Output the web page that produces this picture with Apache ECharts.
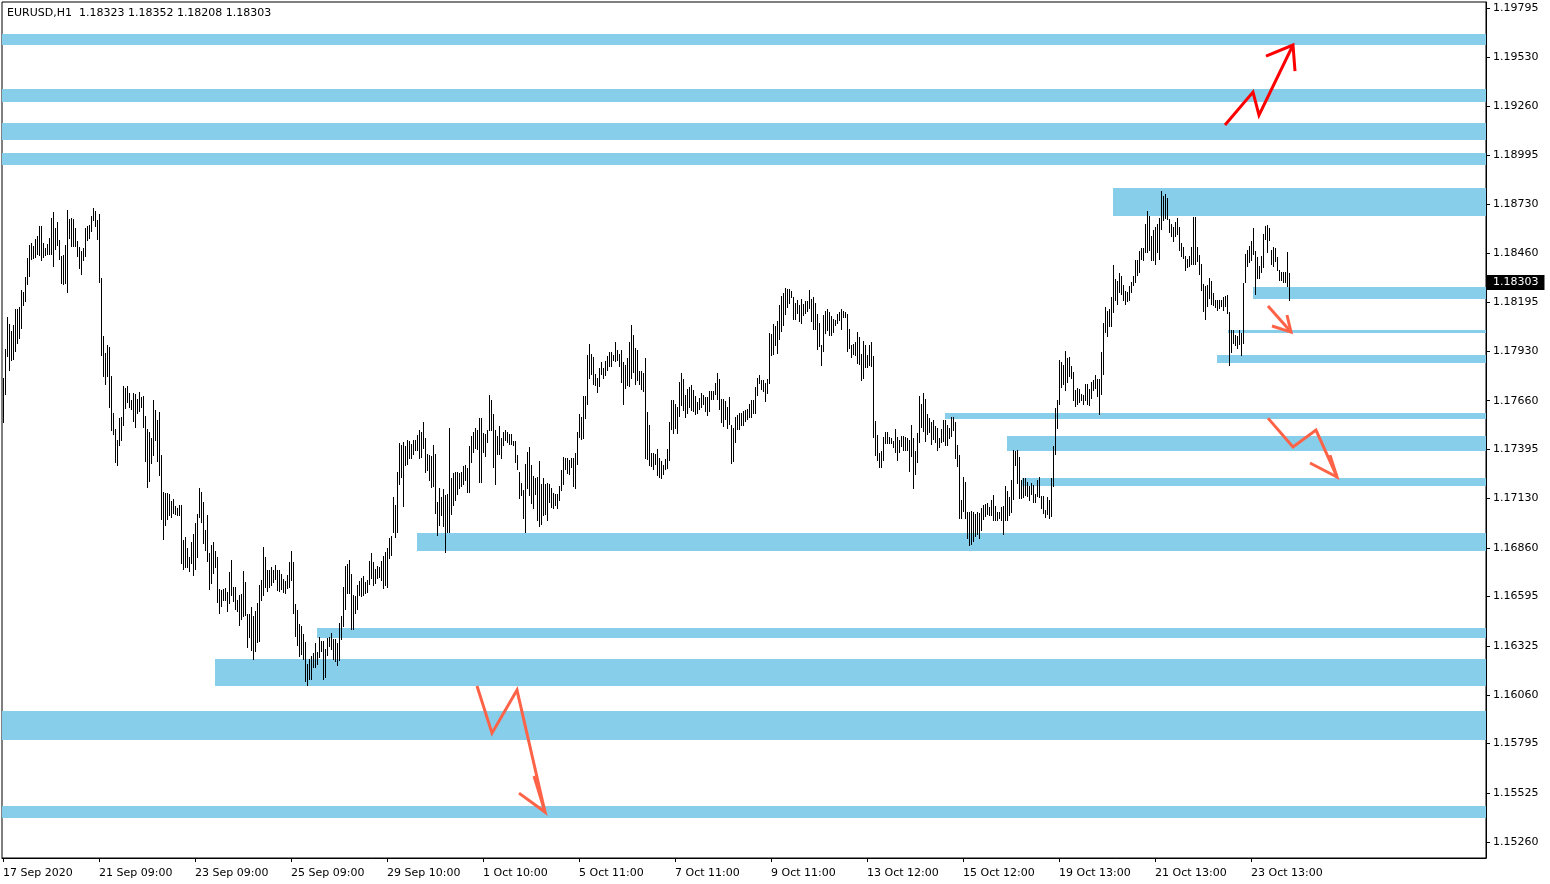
<!DOCTYPE html>
<html><head><meta charset="utf-8">
<script src="https://cdn.jsdelivr.net/npm/echarts@6/dist/echarts.min.js"></script>
<style>html,body{margin:0;padding:0;background:#fff}#chart{width:1550px;height:884px}</style>
</head><body><div id="chart"></div>
<script>
const symbolName = 'EURUSD,H1';
const lastBarOHLC = [1.18323, 1.18352, 1.18208, 1.18303];

// H1 bar highs / lows, first bar = 17 Sep 2020 09:00
const barHighs = [
1.17783,1.17941,1.18115,1.18077,1.18039,1.18071,1.18158,1.18158,1.18169,1.18262,
1.18251,1.18332,1.18436,1.18506,1.18517,1.18501,1.18539,1.18555,1.18610,1.18610,
1.18517,1.18490,1.18512,1.18544,1.18653,1.18686,1.18599,1.18631,1.18533,1.18446,
1.18452,1.18506,1.18697,1.18648,1.18653,1.18648,1.18599,1.18528,1.18495,1.18474,
1.18490,1.18599,1.18610,1.18615,1.18664,1.18707,1.18691,1.18642,1.18675,1.18327,
1.18011,1.17919,1.17962,1.17952,1.17794,1.17593,1.17506,1.17446,1.17565,1.17571,
1.17739,1.17729,1.17739,1.17701,1.17663,1.17701,1.17696,1.17669,1.17707,1.17680,
1.17685,1.17576,1.17506,1.17489,1.17457,1.17663,1.17609,1.17555,1.17598,1.17364,
1.17163,1.17158,1.17158,1.17152,1.17114,1.17125,1.17087,1.17076,1.17092,1.17092,
1.16902,1.16918,1.16858,1.16809,1.16891,1.16935,1.16994,1.17043,1.17185,1.17163,
1.17109,1.16956,1.17038,1.16831,1.16875,1.16891,1.16842,1.16809,1.16636,1.16630,
1.16636,1.16641,1.16619,1.16728,1.16793,1.16646,1.16646,1.16576,1.16603,1.16608,
1.16733,1.16674,1.16500,1.16500,1.16538,1.16489,1.16516,1.16559,1.16657,1.16684,
1.16864,1.16809,1.16739,1.16739,1.16755,1.16739,1.16766,1.16739,1.16739,1.16717,
1.16690,1.16679,1.16712,1.16782,1.16842,1.16782,1.16554,1.16521,1.16445,1.16434,
1.16391,1.16347,1.16228,1.16255,1.16271,1.16287,1.16342,1.16293,1.16374,1.16353,
1.16353,1.16309,1.16369,1.16374,1.16396,1.16364,1.16364,1.16342,1.16451,1.16489,
1.16646,1.16761,1.16771,1.16793,1.16717,1.16603,1.16598,1.16657,1.16679,1.16695,
1.16706,1.16674,1.16684,1.16788,1.16831,1.16782,1.16744,1.16761,1.16755,1.16788,
1.16815,1.16837,1.16858,1.16913,1.16924,1.17136,1.17092,1.17272,1.17429,1.17419,
1.17435,1.17413,1.17446,1.17440,1.17424,1.17446,1.17446,1.17473,1.17500,1.17489,
1.17544,1.17457,1.17370,1.17364,1.17359,1.17419,1.17370,1.17109,1.17185,1.17136,
1.17179,1.17147,1.17152,1.17511,1.17239,1.17266,1.17272,1.17272,1.17266,1.17272,
1.17304,1.17310,1.17294,1.17413,1.17468,1.17489,1.17511,1.17500,1.17565,1.17565,
1.17484,1.17478,1.17500,1.17691,1.17663,1.17587,1.17500,1.17468,1.17522,1.17457,
1.17489,1.17500,1.17489,1.17478,1.17478,1.17440,1.17440,1.17364,1.17272,1.17212,
1.17174,1.17315,1.17381,1.17408,1.17310,1.17250,1.17239,1.17245,1.17332,1.17206,
1.17239,1.17206,1.17212,1.17206,1.17185,1.17158,1.17152,1.17152,1.17196,1.17283,
1.17353,1.17348,1.17348,1.17337,1.17348,1.17348,1.17375,1.17489,1.17587,1.17571,
1.17685,1.17685,1.17908,1.17968,1.17913,1.17897,1.17805,1.17783,1.17837,1.17870,
1.17837,1.17875,1.17903,1.17924,1.17924,1.17908,1.17979,1.17935,1.17913,1.17935,
1.17870,1.17854,1.17892,1.17979,1.18071,1.18017,1.17946,1.17935,1.17821,1.17821,
1.17810,1.17892,1.17598,1.17527,1.17375,1.17375,1.17370,1.17397,1.17348,1.17332,
1.17310,1.17343,1.17397,1.17544,1.17663,1.17663,1.17642,1.17625,1.17761,1.17810,
1.17777,1.17691,1.17723,1.17734,1.17745,1.17718,1.17685,1.17652,1.17674,1.17701,
1.17691,1.17680,1.17680,1.17712,1.17712,1.17712,1.17756,1.17810,1.17777,1.17669,
1.17669,1.17658,1.17625,1.17680,1.17527,1.17511,1.17571,1.17582,1.17593,1.17593,
1.17604,1.17609,1.17614,1.17642,1.17663,1.17663,1.17734,1.17783,1.17799,1.17772,
1.17772,1.17756,1.17777,1.18028,1.18022,1.18077,1.18066,1.18093,1.18180,1.18229,
1.18245,1.18272,1.18267,1.18267,1.18256,1.18223,1.18191,1.18207,1.18180,1.18213,
1.18185,1.18202,1.18202,1.18262,1.18213,1.18223,1.18191,1.18131,1.18082,1.17962,
1.18126,1.18147,1.18158,1.18142,1.18120,1.18104,1.18098,1.18131,1.18142,1.18158,
1.18147,1.18142,1.18131,1.18049,1.17962,1.17968,1.17979,1.18033,1.18006,1.17913,
1.17984,1.17962,1.17908,1.17962,1.17979,1.17903,1.17549,1.17473,1.17375,1.17386,
1.17462,1.17489,1.17489,1.17462,1.17457,1.17440,1.17506,1.17462,1.17446,1.17468,
1.17468,1.17462,1.17457,1.17446,1.17527,1.17457,1.17386,1.17484,1.17685,1.17642,
1.17701,1.17669,1.17587,1.17565,1.17544,1.17555,1.17522,1.17511,1.17457,1.17506,
1.17555,1.17555,1.17527,1.17511,1.17571,1.17571,1.17544,1.17419,1.17364,1.17120,
1.17245,1.17217,1.17054,1.17054,1.17060,1.17054,1.17043,1.17054,1.17049,1.17076,
1.17092,1.17098,1.17103,1.17081,1.17120,1.17147,1.17087,1.17054,1.17054,1.17081,
1.17087,1.17196,1.17168,1.17136,1.17228,1.17391,1.17386,1.17391,1.17353,1.17228,
1.17239,1.17239,1.17217,1.17196,1.17212,1.17201,1.17152,1.17228,1.17245,1.17141,
1.17141,1.17065,1.17136,1.17120,1.17239,1.17413,1.17620,1.17663,1.17881,1.17870,
1.17854,1.17930,1.17892,1.17897,1.17848,1.17816,1.17718,1.17729,1.17723,1.17696,
1.17691,1.17750,1.17750,1.17723,1.17761,1.17772,1.17799,1.17777,1.17777,1.17924,
1.18082,1.18169,1.18147,1.18158,1.18223,1.18397,1.18321,1.18310,1.18354,1.18338,
1.18289,1.18256,1.18251,1.18283,1.18305,1.18338,1.18425,1.18425,1.18474,1.18490,
1.18490,1.18620,1.18691,1.18664,1.18555,1.18588,1.18604,1.18620,1.18653,1.18800,
1.18773,1.18784,1.18762,1.18648,1.18620,1.18604,1.18631,1.18653,1.18604,1.18517,
1.18495,1.18446,1.18430,1.18446,1.18495,1.18658,1.18658,1.18495,1.18452,1.18403,
1.18294,1.18283,1.18289,1.18327,1.18310,1.18245,1.18207,1.18207,1.18207,1.18207,
1.18223,1.18229,1.18234,1.18142,1.18044,1.18044,1.18017,1.18011,1.18044,1.18028,
1.18300,1.18457,1.18479,1.18501,1.18528,1.18599,1.18474,1.18441,1.18392,1.18446,
1.18566,1.18610,1.18615,1.18599,1.18479,1.18495,1.18490,1.18441,1.18370,1.18359,
1.18359,1.18359,1.18468,1.18352
];
const barLows = [
1.17544,1.17696,1.17903,1.17826,1.17881,1.17886,1.17930,1.17973,1.18000,1.18055,
1.18180,1.18202,1.18294,1.18338,1.18430,1.18436,1.18441,1.18457,1.18452,1.18425,
1.18441,1.18452,1.18457,1.18457,1.18457,1.18392,1.18485,1.18506,1.18430,1.18300,
1.18294,1.18300,1.18251,1.18544,1.18501,1.18501,1.18501,1.18446,1.18381,1.18348,
1.18425,1.18446,1.18533,1.18544,1.18582,1.18642,1.18610,1.18539,1.18305,1.17908,
1.17794,1.17750,1.17794,1.17625,1.17500,1.17478,1.17326,1.17310,1.17419,1.17446,
1.17527,1.17620,1.17652,1.17625,1.17614,1.17549,1.17516,1.17593,1.17604,1.17625,
1.17516,1.17332,1.17190,1.17223,1.17321,1.17364,1.17446,1.17332,1.17255,1.17016,
1.16907,1.16984,1.17016,1.17038,1.17027,1.17049,1.17043,1.17038,1.17038,1.16777,
1.16744,1.16755,1.16755,1.16733,1.16777,1.16712,1.16744,1.16809,1.17027,1.17000,
1.16886,1.16848,1.16788,1.16636,1.16668,1.16723,1.16755,1.16565,1.16505,1.16543,
1.16576,1.16576,1.16516,1.16559,1.16603,1.16570,1.16527,1.16516,1.16440,1.16472,
1.16489,1.16494,1.16320,1.16374,1.16304,1.16255,1.16298,1.16347,1.16353,1.16576,
1.16603,1.16646,1.16625,1.16646,1.16657,1.16674,1.16690,1.16630,1.16625,1.16636,
1.16619,1.16614,1.16641,1.16646,1.16684,1.16505,1.16380,1.16331,1.16271,1.16282,
1.16255,1.16135,1.16113,1.16146,1.16146,1.16211,1.16211,1.16228,1.16266,1.16298,
1.16146,1.16157,1.16277,1.16326,1.16309,1.16255,1.16244,1.16222,1.16249,1.16364,
1.16434,1.16527,1.16614,1.16614,1.16418,1.16418,1.16505,1.16527,1.16603,1.16598,
1.16603,1.16614,1.16619,1.16663,1.16695,1.16657,1.16668,1.16695,1.16701,1.16684,
1.16641,1.16657,1.16646,1.16804,1.16820,1.16945,1.16918,1.16945,1.17206,1.17245,
1.17087,1.17310,1.17315,1.17348,1.17348,1.17370,1.17391,1.17391,1.17348,1.17353,
1.17402,1.17272,1.17283,1.17228,1.17190,1.17196,1.17049,1.16929,1.16984,1.17038,
1.16978,1.16837,1.16945,1.16945,1.17043,1.17092,1.17120,1.17152,1.17185,1.17196,
1.17206,1.17228,1.17163,1.17163,1.17326,1.17381,1.17402,1.17397,1.17217,1.17217,
1.17381,1.17359,1.17435,1.17500,1.17500,1.17299,1.17206,1.17370,1.17370,1.17348,
1.17419,1.17446,1.17435,1.17424,1.17424,1.17419,1.17326,1.17288,1.17130,1.17147,
1.17022,1.16945,1.17185,1.17147,1.17103,1.17076,1.17152,1.17011,1.16978,1.16989,
1.17038,1.17043,1.17011,1.17109,1.17081,1.17076,1.17092,1.17076,1.17120,1.17174,
1.17206,1.17288,1.17266,1.17261,1.17299,1.17196,1.17185,1.17315,1.17462,1.17451,
1.17457,1.17565,1.17642,1.17783,1.17805,1.17750,1.17745,1.17707,1.17739,1.17805,
1.17783,1.17799,1.17826,1.17848,1.17848,1.17881,1.17875,1.17881,1.17848,1.17761,
1.17642,1.17729,1.17745,1.17739,1.17783,1.17816,1.17750,1.17772,1.17750,1.17723,
1.17712,1.17348,1.17342,1.17310,1.17304,1.17288,1.17315,1.17255,1.17245,1.17239,
1.17261,1.17288,1.17294,1.17337,1.17506,1.17484,1.17511,1.17484,1.17576,1.17636,
1.17609,1.17571,1.17593,1.17625,1.17609,1.17604,1.17587,1.17593,1.17614,1.17625,
1.17642,1.17604,1.17582,1.17604,1.17669,1.17669,1.17696,1.17669,1.17614,1.17544,
1.17522,1.17560,1.17511,1.17533,1.17321,1.17332,1.17435,1.17506,1.17506,1.17527,
1.17527,1.17549,1.17560,1.17571,1.17571,1.17593,1.17593,1.17691,1.17756,1.17723,
1.17712,1.17658,1.17701,1.17756,1.17908,1.17913,1.17962,1.17919,1.17995,1.18039,
1.18071,1.18131,1.18169,1.18191,1.18223,1.18104,1.18104,1.18136,1.18093,1.18082,
1.18126,1.18136,1.18147,1.18164,1.18093,1.18049,1.18049,1.17941,1.17957,1.17854,
1.17930,1.18028,1.18044,1.18017,1.18017,1.18033,1.18071,1.18082,1.18098,1.18049,
1.18115,1.18115,1.17930,1.17946,1.17897,1.17913,1.17908,1.17865,1.17859,1.17772,
1.17783,1.17843,1.17843,1.17854,1.17848,1.17462,1.17364,1.17337,1.17299,1.17299,
1.17337,1.17429,1.17429,1.17429,1.17429,1.17408,1.17381,1.17337,1.17381,1.17413,
1.17391,1.17391,1.17391,1.17277,1.17359,1.17185,1.17261,1.17326,1.17435,1.17516,
1.17495,1.17440,1.17478,1.17489,1.17424,1.17451,1.17435,1.17391,1.17408,1.17435,
1.17440,1.17419,1.17419,1.17457,1.17468,1.17500,1.17348,1.17304,1.17022,1.17022,
1.17060,1.17022,1.16913,1.16875,1.16880,1.16896,1.16924,1.16935,1.16913,1.16956,
1.17016,1.17033,1.17043,1.17038,1.17038,1.17011,1.17011,1.17011,1.17022,1.17011,
1.16935,1.17011,1.17011,1.17038,1.17054,1.17125,1.17310,1.17212,1.17130,1.17130,
1.17136,1.17147,1.17141,1.17120,1.17152,1.17109,1.17109,1.17141,1.17136,1.17076,
1.17049,1.17027,1.17043,1.17022,1.17033,1.17196,1.17370,1.17511,1.17642,1.17734,
1.17750,1.17718,1.17761,1.17794,1.17783,1.17663,1.17631,1.17642,1.17652,1.17663,
1.17642,1.17663,1.17642,1.17636,1.17674,1.17718,1.17729,1.17685,1.17587,1.17696,
1.17805,1.18033,1.18011,1.18066,1.18066,1.18142,1.18207,1.18185,1.18251,1.18240,
1.18207,1.18185,1.18202,1.18207,1.18251,1.18289,1.18305,1.18343,1.18359,1.18430,
1.18425,1.18468,1.18468,1.18479,1.18425,1.18425,1.18403,1.18468,1.18430,1.18593,
1.18642,1.18653,1.18648,1.18577,1.18555,1.18528,1.18555,1.18566,1.18479,1.18446,
1.18436,1.18370,1.18387,1.18392,1.18403,1.18403,1.18403,1.18419,1.18348,1.18262,
1.18147,1.18104,1.18174,1.18218,1.18185,1.18180,1.18169,1.18153,1.18164,1.18174,
1.18153,1.18174,1.18136,1.17854,1.17924,1.17973,1.17962,1.17946,1.17968,1.17908,
1.17973,1.18305,1.18392,1.18414,1.18425,1.18457,1.18240,1.18327,1.18327,1.18359,
1.18387,1.18539,1.18468,1.18533,1.18403,1.18392,1.18419,1.18370,1.18316,1.18316,
1.18305,1.18305,1.18283,1.18208
];

const xTickLabels = ['17 Sep 2020','21 Sep 09:00','23 Sep 09:00','25 Sep 09:00','29 Sep 10:00',
  '1 Oct 10:00','5 Oct 11:00','7 Oct 11:00','9 Oct 11:00','13 Oct 12:00','15 Oct 12:00',
  '19 Oct 13:00','21 Oct 13:00','23 Oct 13:00'];
const barsPerTimeLabel = 48;
const yTickLabels = ['1.19795','1.19530','1.19260','1.18995','1.18730','1.18460','1.18195',
  '1.17930','1.17660','1.17395','1.17130','1.16860','1.16595','1.16325','1.16060','1.15795',
  '1.15525','1.15260'];

// support / resistance zones: start bar (null = whole chart), upper price, lower price
const zoneStartBar = [null, null, null, null, 555, 625, 612.5, 607, 471, 502, 509.5, 207, 157, 106, null, null];
const zoneUpper = [1.19654,1.19355,1.19170,1.19007,1.18816,1.18278,1.18044,1.17908,1.17593,1.17468,1.17239,1.16940,1.16423,1.16255,1.15972,1.15456];
const zoneLower = [1.19594,1.19284,1.19077,1.18941,1.18664,1.18213,1.18028,1.17865,1.17560,1.17386,1.17196,1.16842,1.16369,1.16108,1.15814,1.15390];

// hand drawn arrows: [bar, price] points
const arrowShafts = [
  [[611,1.19159],[625,1.19338],[628,1.19213],[645,1.19594]],
  [[632.5,1.18175],[644,1.18033]],
  [[632.5,1.17565],[645,1.17408],[656.5,1.17500],[667,1.17245]],
  [[237,1.16108],[244.5,1.15852],[257,1.16086],[271,1.15423]]
];
const arrowHeads = [
  [[631.5,1.19534],[645,1.19594],[646,1.19452]],
  [[634.5,1.18066],[644,1.18033],[642,1.18126]],
  [[653.5,1.17321],[667,1.17245],[663.5,1.17364]],
  [[258,1.15526],[271,1.15423],[265.5,1.15619]]
];
const arrowColors = ['#ff0000','#ff6347','#ff6347','#ff6347'];

const FONT = 'DejaVu Sans';
const X_MIN = -0.5, X_MAX = 741.5;
const Y_MIN = 1.15173, Y_MAX = 1.19828;

const chart = echarts.init(document.getElementById('chart'), null, {renderer: 'canvas'});

const barData = barHighs.map((h, i) => [i, h, barLows[i]]);
const zoneData = zoneUpper.map((u, k) => [zoneStartBar[k] === null ? X_MIN : zoneStartBar[k], u, zoneLower[k]]);
const arrowData = arrowShafts.map((_, k) => [k]);

chart.setOption({
  animation: false,
  backgroundColor: '#fff',
  title: {
    text: symbolName + '  ' + lastBarOHLC.map(v => v.toFixed(5)).join(' '),
    left: 7, top: 8, padding: 0,
    textStyle: {fontFamily: FONT, fontSize: 11, fontWeight: 'normal', color: '#000'}
  },
  grid: {left: 2, right: 64, top: 2, bottom: 26, show: true, borderColor: '#000', borderWidth: 1, backgroundColor: 'transparent'},
  xAxis: {
    type: 'value', min: X_MIN, max: X_MAX,
    splitLine: {show: false},
    axisLine: {show: true, onZero: false, lineStyle: {color: '#000', width: 1}},
    axisTick: {show: true, length: 4, lineStyle: {color: '#000'},
      customValues: xTickLabels.map((_, k) => k * barsPerTimeLabel)},
    axisLabel: {
      customValues: xTickLabels.map((_, k) => k * barsPerTimeLabel),
      formatter: v => xTickLabels[Math.round(v / barsPerTimeLabel)] || '',
      align: 'left', margin: 10, color: '#000', fontFamily: FONT, fontSize: 11
    }
  },
  yAxis: {
    type: 'value', position: 'right', min: Y_MIN, max: Y_MAX, scale: true,
    splitLine: {show: false},
    axisLine: {show: true, onZero: false, lineStyle: {color: '#000', width: 1}},
    axisTick: {show: true, length: 4, lineStyle: {color: '#000'}, customValues: yTickLabels.map(Number)},
    axisLabel: {
      customValues: yTickLabels.map(Number),
      formatter: v => v.toFixed(5),
      margin: 7, padding: [5, 0, 0, 0], color: '#000', fontFamily: FONT, fontSize: 11
    }
  },
  series: [
    {
      type: 'custom', name: 'zones', clip: true, silent: true,
      data: zoneData,
      renderItem: (params, api) => {
        const p1 = api.coord([api.value(0), api.value(1)]);
        const p2 = api.coord([X_MAX, api.value(2)]);
        const cs = params.coordSys;
        const shape = echarts.graphic.clipRectByRect(
          {x: Math.round(p1[0]), y: Math.round(p1[1]), width: Math.round(p2[0]) - Math.round(p1[0]), height: Math.round(p2[1]) - Math.round(p1[1])},
          {x: cs.x, y: cs.y, width: cs.width, height: cs.height});
        return shape && {type: 'rect', shape: shape, style: {fill: '#87ceeb'}};
      }
    },
    {
      type: 'custom', name: 'bars', clip: true, silent: true,
      data: barData,
      renderItem: (params, api) => {
        const i = api.value(0);
        const p1 = api.coord([i, api.value(1)]);
        const p2 = api.coord([i, api.value(2)]);
        const x = Math.round(p1[0]) + 0.5;
        const y1 = Math.round(p1[1]);
        const y2 = Math.max(Math.round(p2[1]) + 1, y1 + 1);
        return {type: 'line', shape: {x1: x, y1: y1, x2: x, y2: y2}, style: {stroke: '#000', lineWidth: 1}};
      }
    },
    {
      type: 'custom', name: 'arrows', clip: true, silent: true,
      data: arrowData,
      renderItem: (params, api) => {
        const k = api.value(0);
        const shaft = arrowShafts[k].map(p => api.coord(p));
        const head = arrowHeads[k].map(p => api.coord(p));
        const st = {stroke: arrowColors[k], lineWidth: 3, fill: null, lineJoin: 'miter', lineCap: 'butt'};
        return {type: 'group', children: [
          {type: 'polyline', shape: {points: shaft}, style: st},
          {type: 'polyline', shape: {points: head}, style: st}
        ]};
      }
    },
    {
      type: 'scatter', name: 'last price', silent: true, clip: false,
      symbolSize: 0, z: 10,
      itemStyle: {opacity: 1},
      data: [[X_MAX, lastBarOHLC[3]]],
      label: {
        show: true, position: 'right', distance: 1, opacity: 1,
        formatter: p => p.value[1].toFixed(5),
        backgroundColor: '#000', color: '#fff', fontFamily: FONT, fontSize: 11,
        padding: [3, 6, 1, 6]
      }
    }
  ]
});
</script>
</body></html>
